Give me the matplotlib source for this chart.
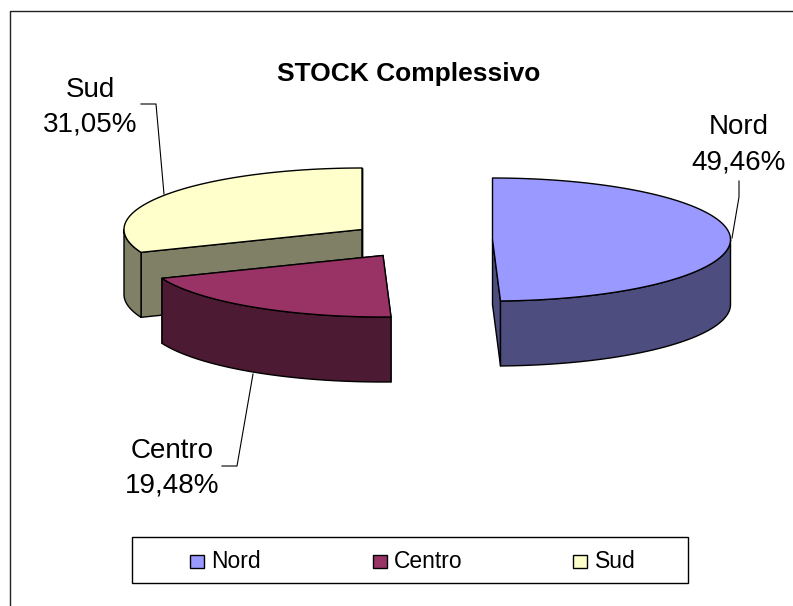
#!/bin/python
"""STOCK Complessivo: exploded 3D-look pie, drawn on a pixel-sized axes."""

import numpy as np
import matplotlib
matplotlib.use('Agg')
import matplotlib.pyplot as plt
from matplotlib.patches import Polygon, Rectangle

plt.rcParams['font.family'] = ['Liberation Sans', 'DejaVu Sans']

categories = ['Nord', 'Centro', 'Sud']
values = [49.46, 19.48, 31.05]
tops = ['#9999FF', '#993366', '#FFFFCC']
sides = ['#4D4D80', '#4D1A33', '#808066']
title = 'STOCK Complessivo'

# layout, in pixels
centers = [(492.5, 239.5), (383, 255.5), (362, 229.5)]
RX, RY, DEPTH = 238, 61.5, 65
label_x = [739, 172, 90]
name_y = [127, 451, 90]
pct_y = [162.5, 485.5, 124.5]
leaders = [[(739, 181), (739, 197), (732, 238)],
           [(222, 466), (237, 466), (253, 374)],
           [(141, 104), (156, 104), (164, 194)]]
legend_x = [(191, 211), (374, 394), (574, 595)]
LW = 1.0

fig = plt.figure(figsize=(7.93, 6.06), dpi=100)
ax = fig.add_axes([0, 0, 1, 1])
ax.set_xlim(0, 793)
ax.set_ylim(606, 0)
ax.axis('off')


def rim(c, t0, t1, dy=0):
    # angles in degrees, clockwise from 12 o'clock
    t = np.radians(np.linspace(t0, t1, 120))
    return np.column_stack([c[0] + RX * np.sin(t), c[1] - RY * np.cos(t) + dy])


def patch(pts, color, z):
    ax.add_patch(Polygon(pts, closed=True, fc=color, ec='black', lw=LW,
                         joinstyle='round', zorder=z))


# figure frame: left and top edges only
ax.plot([10, 10, 793], [606, 10.5, 10.5], color='#222222', lw=1.0, zorder=1)

ends = np.cumsum(values) / np.sum(values) * 360
starts = np.concatenate([[0], ends[:-1]])
# back slices first so the front ones overlap them
for i in [2, 1, 0]:
    c = centers[i]
    z = 10 + 3 * (2 - i)
    for ang in (starts[i], ends[i]):
        e = rim(c, ang, ang)[0]
        patch([c, e, (e[0], e[1] + DEPTH), (c[0], c[1] + DEPTH)], sides[i], z)
    a0, a1 = max(starts[i], 90), min(ends[i], 270)
    if a1 > a0:
        patch(np.vstack([rim(c, a0, a1), rim(c, a1, a0, DEPTH)]), sides[i], z + 1)
    patch(np.vstack([[c], rim(c, starts[i], ends[i])]), tops[i], z + 2)

for i, name in enumerate(categories):
    pct = f'{values[i]:.2f}%'.replace('.', ',')
    ax.text(label_x[i], name_y[i], name, fontsize=20, ha='center', va='center',
            color='black', zorder=30)
    ax.text(label_x[i], pct_y[i], pct, fontsize=20, ha='center', va='center',
            color='black', zorder=30)
    xs, ys = zip(*leaders[i])
    ax.plot(xs, ys, color='black', lw=0.8, zorder=5)

ax.text(409, 74, title, fontsize=19, fontweight='bold', ha='center',
        va='center', color='black', zorder=30)

# legend box with its soft shadow
ax.add_patch(Rectangle((133, 539), 556, 45, fc='#AAAAAA', ec='none', zorder=2))
ax.add_patch(Rectangle((132, 537), 556, 46, fc='white', ec='black', lw=LW, zorder=3))
for i, name in enumerate(categories):
    x0, x1 = legend_x[i]
    ax.add_patch(Rectangle((x0 - 1, 554.5), 13.5, 13.5, fc=tops[i], ec='black', lw=LW, zorder=4))
    ax.text(x1, 561.5, name, fontsize=16.5, ha='left', va='center', color='black', zorder=5)

fig.savefig('out.png', dpi=100)
print('done')
